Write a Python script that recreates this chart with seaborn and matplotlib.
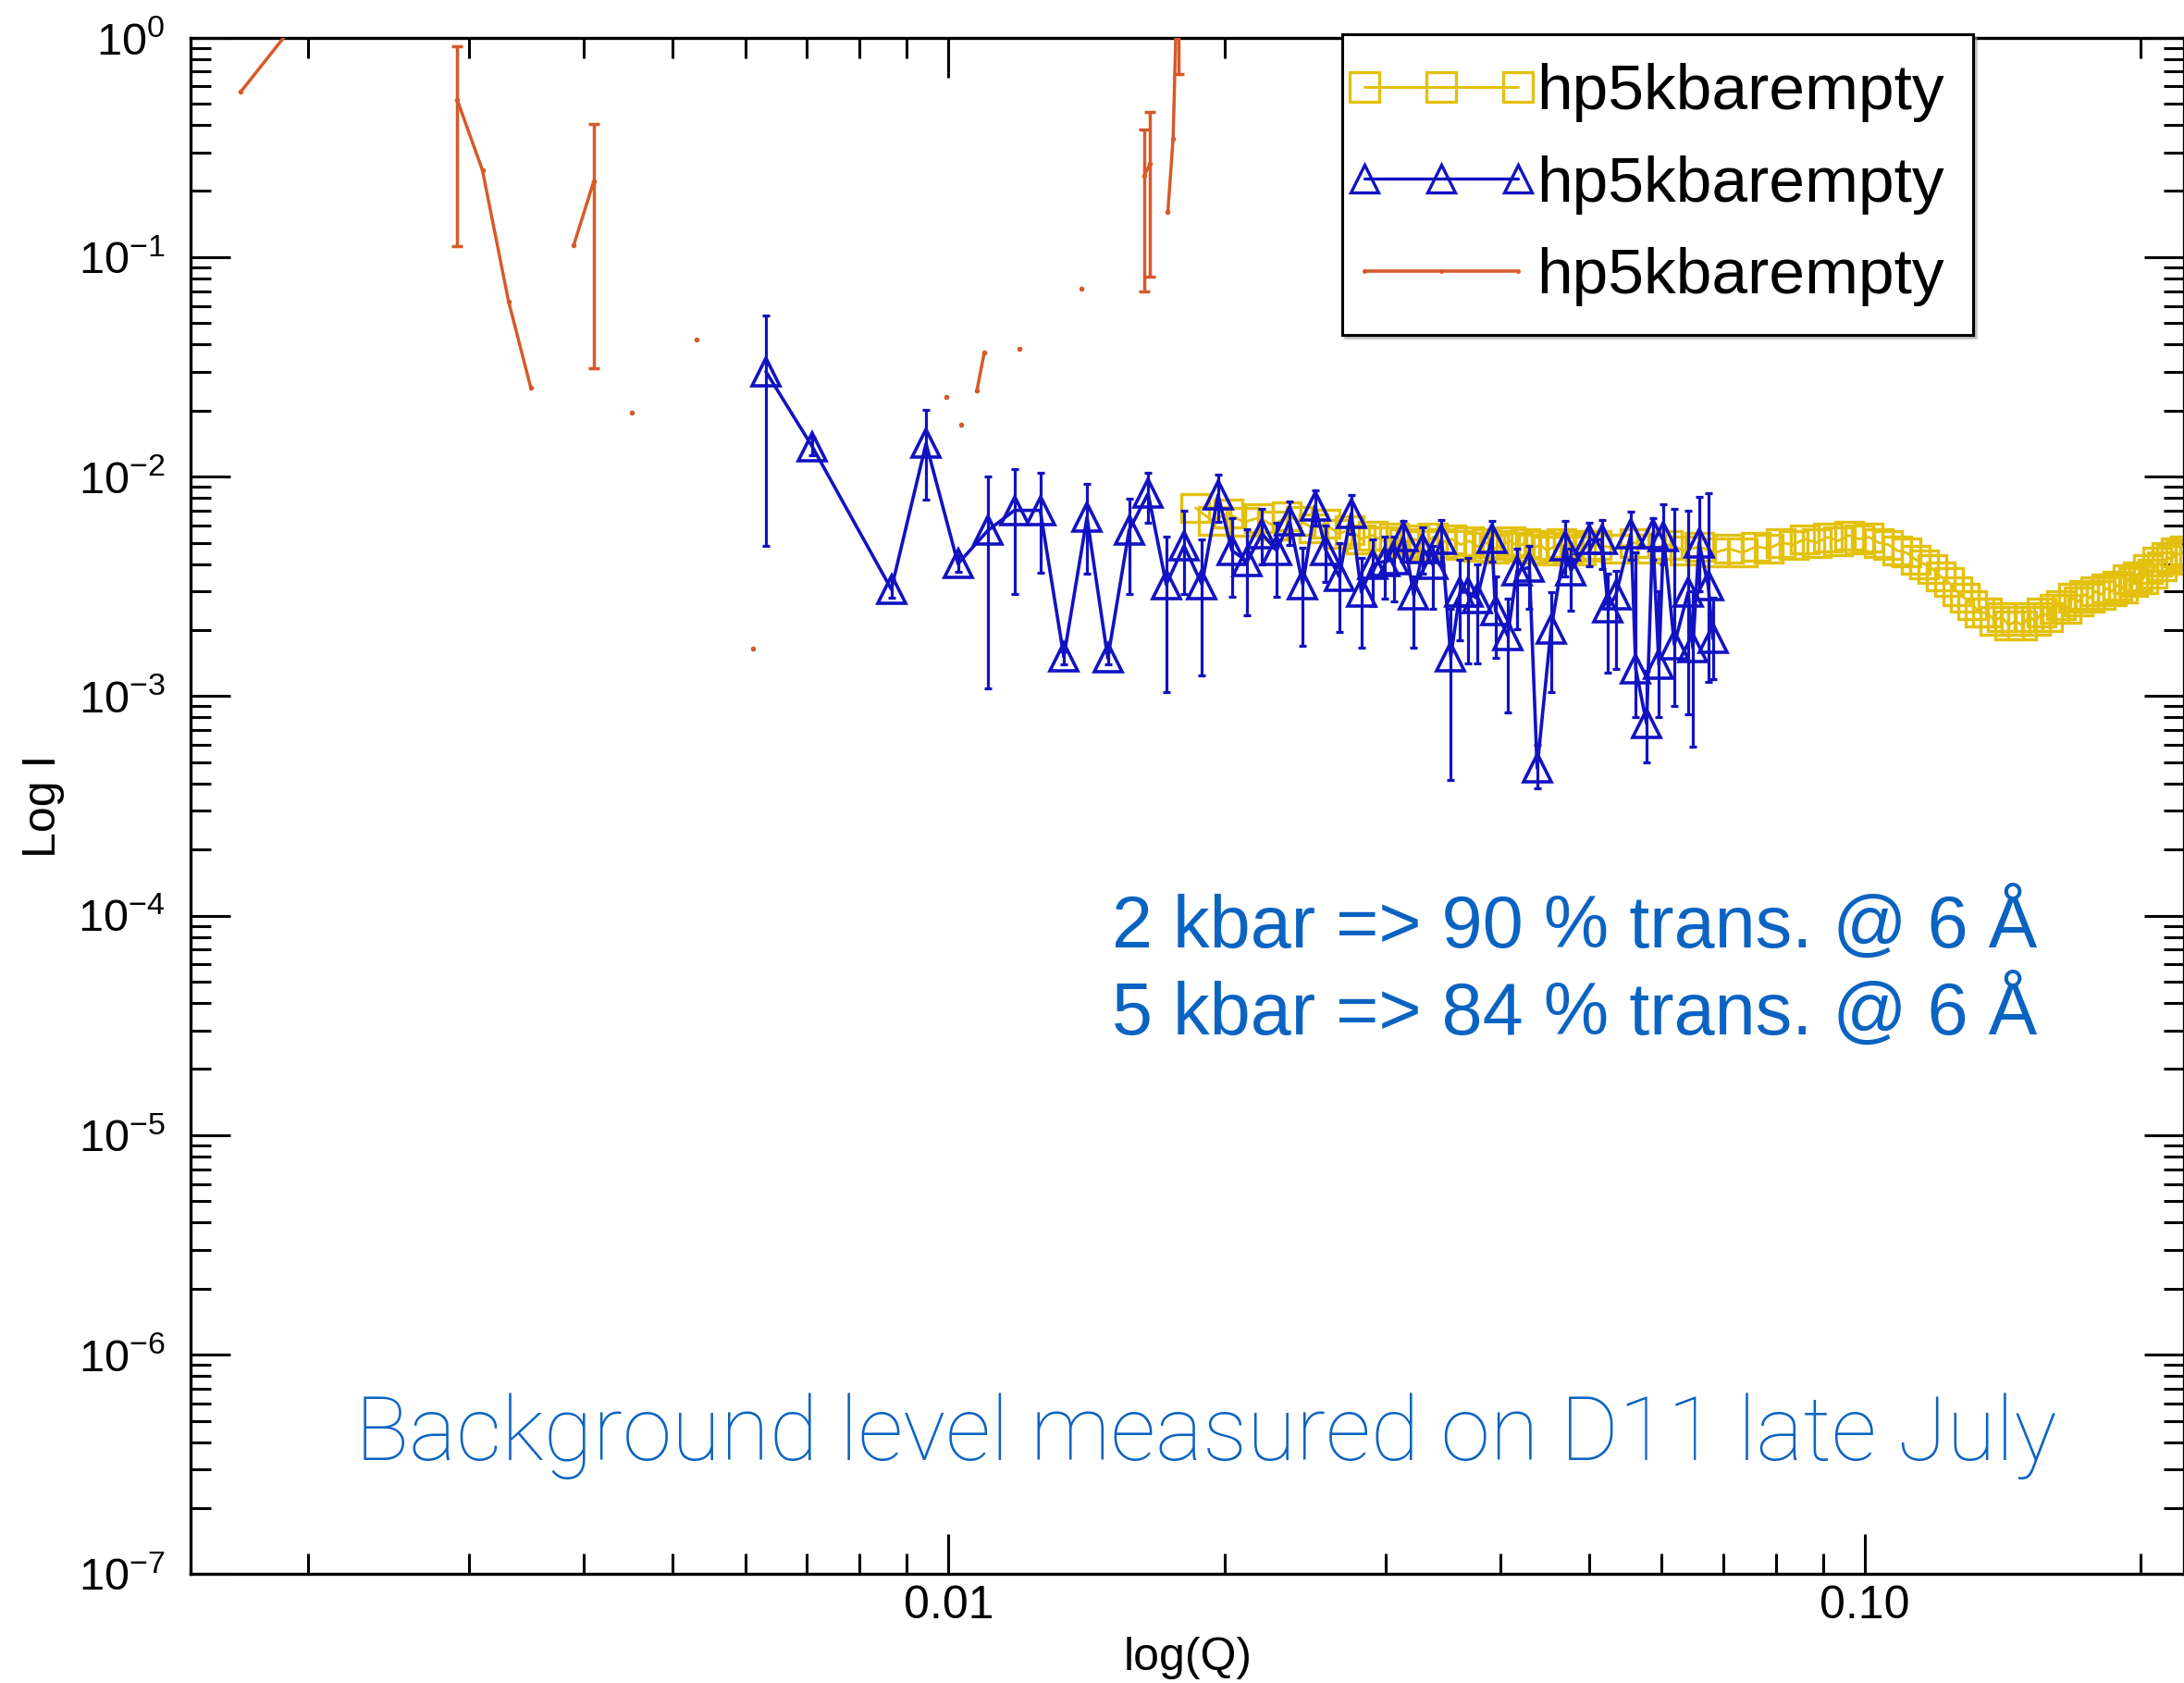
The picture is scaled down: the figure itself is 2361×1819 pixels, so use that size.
import numpy as np
import pandas as pd
import matplotlib
matplotlib.use("Agg")
import matplotlib.pyplot as plt
import seaborn as sns
from matplotlib.lines import Line2D
from matplotlib.legend_handler import HandlerLine2D
from matplotlib.ticker import LogLocator, NullFormatter, FixedLocator, FixedFormatter

nan = np.nan

# ---------------- data ----------------
yellow_q = [0.0186, 0.0194, 0.0202, 0.0210, 0.0218, 0.0226, 0.0234, 0.0242, 0.0250, 0.0258,
            0.0266, 0.0274, 0.0282, 0.0290, 0.0298, 0.0306, 0.0314, 0.0322, 0.0330, 0.0338,
            0.0346, 0.0354, 0.0362, 0.0370, 0.0378, 0.0386, 0.0394, 0.0402, 0.0410, 0.0418,
            0.0426, 0.0434, 0.0442, 0.0450, 0.0458, 0.0466, 0.0474, 0.0482, 0.0490, 0.0498,
            0.0510, 0.0535, 0.0560, 0.0585, 0.0610, 0.0635, 0.0660, 0.0685, 0.0710, 0.0735,
            0.0760, 0.0785, 0.0810, 0.0835, 0.0860, 0.0885, 0.0910, 0.0935, 0.0960, 0.0985,
            0.1010, 0.1035, 0.1060, 0.1085, 0.1110, 0.1135, 0.1160, 0.1185, 0.1210, 0.1235,
            0.1260, 0.1285, 0.1310, 0.1335, 0.1360, 0.1385, 0.1410, 0.1435, 0.1460, 0.1485,
            0.1510, 0.1535, 0.1560, 0.1585, 0.1610, 0.1635, 0.1660, 0.1685, 0.1710, 0.1735,
            0.1760, 0.1785, 0.1810, 0.1835, 0.1860, 0.1885, 0.1910, 0.1935, 0.1960, 0.1985,
            0.2010, 0.2035, 0.2060, 0.2085, 0.2110, 0.2135, 0.2160, 0.2185, 0.2210, 0.2235,
            0.2260]
yellow_i = [0.0072, 0.0063, 0.0068, 0.0062, 0.0065, 0.0060, 0.0066, 0.0063, 0.0058, 0.0061,
            0.0055, 0.0057, 0.0052, 0.0054, 0.0051, 0.0053, 0.0050, 0.0052, 0.0049, 0.0053,
            0.0050, 0.0052, 0.0049, 0.0051, 0.0048, 0.0050, 0.0047, 0.0049, 0.0051, 0.0048,
            0.0050, 0.0047, 0.0049, 0.0046, 0.0048, 0.0050, 0.0047, 0.0049, 0.0046, 0.0048,
            0.0049, 0.0047, 0.0050, 0.0047, 0.0049, 0.0046, 0.0048, 0.0045, 0.0047, 0.0045,
            0.0048, 0.0047, 0.0050, 0.0049, 0.0052, 0.0050, 0.0053, 0.0051, 0.0054, 0.0052,
            0.0053, 0.0050, 0.0049, 0.0046, 0.0045, 0.0042, 0.0040, 0.0038, 0.0035, 0.0033,
            0.0030, 0.0028, 0.0026, 0.0024, 0.0024, 0.0022, 0.0023, 0.0021, 0.0022, 0.0021,
            0.0023, 0.0022, 0.0024, 0.0023, 0.0025, 0.0026, 0.0025, 0.0028, 0.0027, 0.0029,
            0.0028, 0.0030, 0.0029, 0.0031, 0.0030, 0.0032, 0.0031, 0.0034, 0.0033, 0.0035,
            0.0034, 0.0038, 0.0036, 0.0041, 0.0039, 0.0043, 0.0042, 0.0045, 0.0044, 0.0046,
            0.0045]

blue_q = [0.00632, 0.00710, 0.00866, 0.00945, 0.01024, 0.01104, 0.01180, 0.01259, 0.01336, 0.01416,
          0.01492, 0.01574, 0.01651, 0.01728, 0.01807, 0.01890, 0.01968, 0.02038, 0.02118, 0.02198,
          0.02280, 0.02356, 0.02435, 0.02512, 0.02581, 0.02669, 0.02750, 0.02821, 0.02905, 0.02990,
          0.03061, 0.03137, 0.03219, 0.03295, 0.03373, 0.03452, 0.03532, 0.03615, 0.03687, 0.03773,
          0.03915, 0.03952, 0.04075, 0.04172, 0.04303, 0.04388, 0.04544, 0.04705, 0.04777, 0.05004,
          0.05163, 0.05243, 0.05347, 0.05556, 0.05622, 0.05776, 0.05866, 0.05958, 0.06028, 0.06194,
          0.06413, 0.06488, 0.06591, 0.06745, 0.06824]
blue_i = [0.0301, 0.0137, 0.00307, 0.01416, 0.00401, 0.00569, 0.00702, 0.00702, 0.00151, 0.00652,
          0.00149, 0.00569, 0.00838, 0.00323, 0.00484, 0.00323, 0.00825, 0.00461, 0.00411, 0.00550,
          0.00461, 0.00627, 0.00323, 0.00736, 0.00461, 0.00350, 0.00679, 0.00298, 0.00398, 0.00411,
          0.00418, 0.00533, 0.00288, 0.00468, 0.00398, 0.00516, 0.00151, 0.00298, 0.00298, 0.00279,
          0.00524, 0.00245, 0.00189, 0.00373, 0.00386, 0.000471, 0.00202, 0.00484, 0.00373, 0.00516,
          0.00516, 0.00253, 0.00288, 0.00550, 0.00133, 0.000752, 0.00550, 0.00139, 0.00533, 0.00172,
          0.00298, 0.00166, 0.00499, 0.00318, 0.00183]
blue_lo = [0.00484, 0.0125, 0.0028, 0.00786, 0.0037, 0.00108, 0.00293, 0.00365, 0.0014, 0.00361,
           0.0014, 0.00293, 0.00617, 0.00104, 0.00293, 0.00124, 0.0062, 0.00284, 0.00234, 0.0040,
           0.00284, 0.0049, 0.00169, 0.0060, 0.0033, 0.00196, 0.0055, 0.00166, 0.00257, 0.00279,
           0.00270, 0.0041, 0.00166, 0.0036, 0.00249, 0.0040, 0.000415, 0.0018, 0.00141, 0.00141,
           0.0041, 0.0015, 0.000843, 0.00202, 0.0025, 0.00038, 0.00104, 0.0035, 0.00245, 0.0039,
           0.0038, 0.00128, 0.00133, 0.0042, 0.0008, 0.0005, 0.0042, 0.0008, 0.0040, 0.0009,
           0.000829, 0.00059, 0.0030, 0.00116, 0.0012]
blue_hi = [0.0543, 0.0150, 0.0034, 0.0201, 0.0044, 0.0100, 0.01079, 0.01044, 0.0016, 0.00929,
           0.0016, 0.00794, 0.01044, 0.00533, 0.00702, 0.00516, 0.0102, 0.00647, 0.00578, 0.00713,
           0.00617, 0.00773, 0.00476, 0.00866, 0.00597, 0.0050, 0.00825, 0.00425, 0.00516, 0.00533,
           0.00533, 0.00627, 0.00350, 0.00587, 0.00484, 0.00637, 0.0025, 0.0042, 0.00425, 0.0040,
           0.00627, 0.0035, 0.00279, 0.00468, 0.00484, 0.0006, 0.00298, 0.00627, 0.00468, 0.00617,
           0.00637, 0.0036, 0.00373, 0.00690, 0.00453, 0.0013, 0.00647, 0.0030, 0.00748, 0.00713,
           0.00702, 0.0030, 0.00811, 0.00838, 0.0028]

orange_q = [0.00169, 0.00200, 0.00291, 0.00310, 0.00331, 0.00350, 0.00390, 0.00410, 0.00451, 0.00531,
            0.00612, 0.00994, 0.01033, 0.01074, 0.01094, 0.01194, 0.01396, 0.01634, 0.01660, 0.01735,
            0.01758, 0.01780]
orange_i = [0.568, 1.38, 0.52, 0.249, 0.063, 0.0255, 0.1136, 0.221, 0.0195, 0.0423,
            0.00164, 0.0231, 0.01725, 0.0248, 0.0368, 0.0381, 0.0717, 0.2347, 0.267, 0.160,
            0.346, 2.5]
orange_lo = [nan, nan, 0.112, nan, nan, nan, nan, 0.0312, nan, nan,
             nan, nan, nan, nan, nan, nan, nan, 0.0698, 0.0813, nan,
             nan, 0.68]
orange_hi = [nan, nan, 0.91, nan, nan, nan, nan, 0.403, nan, nan,
             nan, nan, nan, nan, nan, nan, nan, 0.381, 0.46, nan,
             nan, 6.0]
orange_seg = [0, 0, 1, 1, 1, 1, 2, 2, 3, 4,
              5, 6, 7, 8, 8, 9, 10, 11, 11, 12,
              12, 12]

legend_labels = ["hp5kbarempty", "hp5kbarempty", "hp5kbarempty"]
xtick_values = [0.01, 0.1]
xtick_labels = ["0.01", "0.10"]
ytick_values = [1e-7, 1e-6, 1e-5, 1e-4, 1e-3, 1e-2, 1e-1, 1e0]
ytick_labels = [r"$10^{-7}$", r"$10^{-6}$", r"$10^{-5}$", r"$10^{-4}$",
                r"$10^{-3}$", r"$10^{-2}$", r"$10^{-1}$", r"$10^{0}$"]
note_lines = ["2 kbar => 90 % trans. @ 6 Å", "5 kbar => 84 % trans. @ 6 Å"]
bottom_note = "Background level measured on D11 late July"

YELLOW = "#E3C10E"
BLUE = "#1212C2"
ORANGE = "#D65A2A"
NOTE_BLUE = "#0B63C1"

# ---------------- style ----------------
sns.set_style("ticks")
plt.rcParams["font.family"] = ["Liberation Sans", "DejaVu Sans"]
plt.rcParams["mathtext.fontset"] = "custom"
plt.rcParams["mathtext.rm"] = "Liberation Sans"
plt.rcParams["mathtext.it"] = "Liberation Sans:italic"
plt.rcParams["mathtext.default"] = "regular"
plt.rcParams["axes.unicode_minus"] = False
plt.rcParams["text.color"] = "black"
plt.rcParams["axes.labelcolor"] = "black"
plt.rcParams["xtick.color"] = "black"
plt.rcParams["ytick.color"] = "black"

W, H = 2361, 1819
fig = plt.figure(figsize=(W / 100, H / 100), dpi=100)
fig.patch.set_facecolor("white")
left_px, right_px, top_px, bottom_px = 206.3, 2361.0, 40.65, 1701.4
ax = fig.add_axes([left_px / W, 1 - bottom_px / H, (right_px - left_px) / W, (bottom_px - top_px) / H])
ax.set_facecolor("white")
ax.set_xscale("log")
ax.set_yscale("log")

df_y = pd.DataFrame({"Q": yellow_q, "I": yellow_i})
df_b = pd.DataFrame({"Q": blue_q, "I": blue_i, "lo": blue_lo, "hi": blue_hi})
df_o = pd.DataFrame({"Q": orange_q, "I": orange_i, "lo": orange_lo, "hi": orange_hi, "seg": orange_seg})

# yellow squares
sns.lineplot(data=df_y, x="Q", y="I", ax=ax, color=YELLOW, linewidth=2.0,
             marker="s", markersize=21, markerfacecolor="none",
             markeredgecolor=YELLOW, markeredgewidth=2.4,
             estimator=None, sort=False, zorder=2)

# blue triangles with error bars
ax.errorbar(df_b["Q"], df_b["I"], yerr=[df_b["I"] - df_b["lo"], df_b["hi"] - df_b["I"]],
            fmt="none", ecolor=BLUE, elinewidth=2.3, capsize=3, capthick=2.3, zorder=3)
sns.lineplot(data=df_b, x="Q", y="I", ax=ax, color=BLUE, linewidth=2.6,
             marker="^", markersize=22, markerfacecolor="none",
             markeredgecolor=BLUE, markeredgewidth=2.6,
             estimator=None, sort=False, zorder=4)

# orange line segments with error bars
eb = df_o.dropna(subset=["lo"])
ax.errorbar(eb["Q"], eb["I"], yerr=[eb["I"] - eb["lo"], eb["hi"] - eb["I"]],
            fmt="none", ecolor=ORANGE, elinewidth=2.5, capsize=4, capthick=2.5, zorder=5)
sns.lineplot(data=df_o, x="Q", y="I", units="seg", ax=ax, color=ORANGE, linewidth=2.5,
             marker=".", markersize=6, markeredgecolor=ORANGE, markeredgewidth=1,
             estimator=None, sort=False, zorder=6)

ax.set_xlim(0.001490, 0.2229)
ax.set_ylim(1e-7, 1.0)

# ticks
ax.xaxis.set_major_locator(FixedLocator(xtick_values))
ax.xaxis.set_major_formatter(FixedFormatter(xtick_labels))
ax.xaxis.set_minor_locator(LogLocator(base=10, subs=np.arange(2, 10), numticks=50))
ax.xaxis.set_minor_formatter(NullFormatter())
ax.yaxis.set_major_locator(FixedLocator(ytick_values))
ax.yaxis.set_major_formatter(FixedFormatter(ytick_labels))
ax.yaxis.set_minor_locator(LogLocator(base=10, subs=np.arange(2, 10), numticks=50))
ax.yaxis.set_minor_formatter(NullFormatter())

ax.tick_params(which="both", direction="in", top=True, right=True, color="black")
ax.tick_params(which="major", length=31, width=2.2)
ax.tick_params(which="minor", length=16, width=2.2)
ax.tick_params(axis="x", which="major", labelsize=36, pad=8, labelcolor="black")
ax.tick_params(axis="y", which="major", labelsize=35, pad=20, labelcolor="black")

for sp in ax.spines.values():
    sp.set_linewidth(2.4)
    sp.set_color("black")

ax.set_xlabel("log(Q)", fontsize=36, color="black")
ax.xaxis.set_label_coords(0.5, -0.041)
ax.set_ylabel("Log I", fontsize=36, color="black")
ax.yaxis.set_label_coords(-0.0633, 0.5)

# annotations
ax.text(0.4621, 0.4083, note_lines[0], transform=ax.transAxes, fontsize=57,
        color=NOTE_BLUE, ha="left", va="baseline")
ax.text(0.4621, 0.3511, note_lines[1], transform=ax.transAxes, fontsize=57,
        color=NOTE_BLUE, ha="left", va="baseline")
ax.text(0.0825, 0.0743, bottom_note, transform=ax.transAxes, fontsize=69.5,
        color=NOTE_BLUE, ha="left", va="baseline",
        family=["Roboto", "Liberation Sans", "DejaVu Sans"], fontweight="light")

# legend
handles = [
    Line2D([0], [0], color=YELLOW, lw=2.2, marker="s", markersize=23,
           markerfacecolor="none", markeredgecolor=YELLOW, markeredgewidth=2.4),
    Line2D([0], [0], color=BLUE, lw=2.4, marker="^", markersize=21,
           markerfacecolor="none", markeredgecolor=BLUE, markeredgewidth=2.4),
    Line2D([0], [0], color=ORANGE, lw=2.6, marker=".", markersize=5,
           markeredgecolor=ORANGE),
]
leg = ax.legend(handles, legend_labels, loc="upper left",
                bbox_to_anchor=(1451 / W, 1 - 37 / H), bbox_transform=fig.transFigure,
                borderaxespad=0, prop={"family": "Liberation Sans", "size": 50},
                numpoints=3, handlelength=2.18, handletextpad=0.4, labelspacing=0.51,
                borderpad=0.45, frameon=True, fancybox=False, edgecolor="black",
                framealpha=1, shadow={"color": "0.6", "alpha": 0.45},
                handler_map={Line2D: HandlerLine2D(marker_pad=-0.1)})
leg.get_frame().set_linewidth(2.2)
leg.set_zorder(10)
for t in leg.get_texts():
    t.set_color("black")

fig.savefig("out.png", dpi=100, facecolor="white")
